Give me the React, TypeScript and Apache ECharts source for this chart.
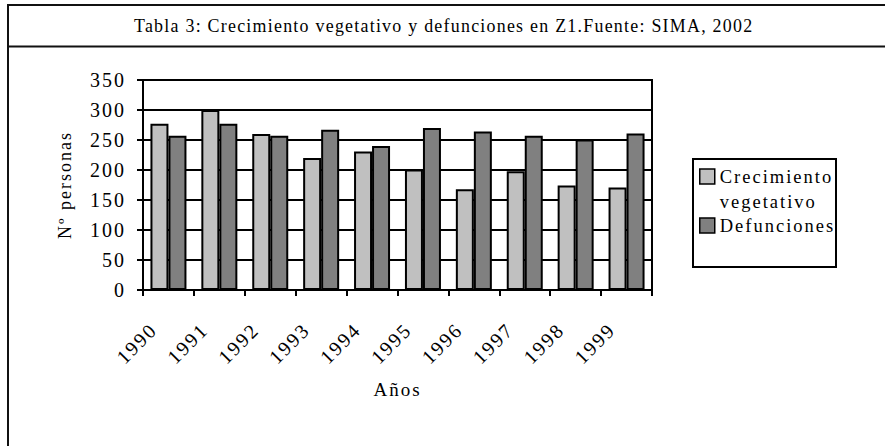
import React, { useEffect, useRef } from "react";
import * as echarts from "echarts";

const titleText = "Tabla 3: Crecimiento vegetativo y defunciones en Z1.Fuente: SIMA, 2002";
const categories = ["1990", "1991", "1992", "1993", "1994", "1995", "1996", "1997", "1998", "1999"];
const seriesNames = ["Crecimiento vegetativo", "Defunciones"];
const crecimiento = [277, 300, 260, 220, 231, 201, 168, 198, 174, 171];
const defunciones = [257, 277, 257, 267, 240, 270, 264, 257, 251, 261];
const yMin = 0;
const yMax = 350;
const yInterval = 50;

export default function App() {
  const ref = useRef<HTMLDivElement>(null);
  useEffect(() => {
    const chart = echarts.init(ref.current!, null, { renderer: "svg" });
    const font = "Liberation Serif";
    const black = "#000";
    const line = { color: black, width: 2 };
    chart.setOption({
      animation: false,
      backgroundColor: "#fff",
      textStyle: { fontFamily: font, color: black },
      title: {
        text: titleText,
        left: 134,
        top: 17,
        padding: 0,
        textStyle: { fontFamily: font, fontSize: 17.9, fontWeight: "normal", color: black },
      },
      grid: {
        left: 143,
        right: 233,
        top: 80,
        bottom: 156,
        show: true,
        borderColor: black,
        borderWidth: 2,
        backgroundColor: "transparent",
      },
      legend: {
        orient: "vertical",
        left: 699,
        top: 139,
        padding: 0,
        itemGap: 2,
        itemWidth: 15,
        itemHeight: 15,
        icon: "rect",
        selectedMode: false,
        textStyle: { fontFamily: font, fontSize: 18.5, color: black },
        itemStyle: { borderColor: black, borderWidth: 1.5 },
        data: [
          { name: seriesNames[0], textStyle: { lineHeight: 25 } },
          { name: seriesNames[1] },
        ],
        formatter: (n: string) => (n === seriesNames[0] ? "\nCrecimiento\nvegetativo" : n),
      },
      xAxis: {
        type: "category",
        data: categories,
        name: "Años",
        nameLocation: "middle",
        nameGap: 90,
        nameMoveOverlap: false,
        nameTextStyle: { fontFamily: font, fontSize: 19, color: black },
        axisLine: { show: true, lineStyle: line },
        axisTick: { show: true, length: 6, lineStyle: line },
        axisLabel: {
          interval: 0,
          rotate: 45,
          fontFamily: font,
          fontSize: 20,
          color: black,
          margin: 21.5,
          padding: [0, 21, 0, 0],
        },
        splitLine: { show: false },
      },
      yAxis: {
        type: "value",
        min: yMin,
        max: yMax,
        interval: yInterval,
        name: "Nº personas",
        nameLocation: "middle",
        nameGap: 69,
        nameMoveOverlap: false,
        nameTextStyle: { fontFamily: font, fontSize: 18, color: black },
        axisLine: { show: true, lineStyle: line },
        axisTick: { show: true, length: 6, lineStyle: line },
        axisLabel: { fontFamily: font, fontSize: 20, color: black, margin: 17 },
        splitLine: { show: true, lineStyle: line },
      },
      series: [
        {
          name: seriesNames[0],
          type: "bar",
          data: crecimiento,
          barWidth: 18,
          barGap: "0%",
          itemStyle: { color: "#C0C0C0", borderColor: black, borderWidth: 2 },
        },
        {
          name: seriesNames[1],
          type: "bar",
          data: defunciones,
          barWidth: 18,
          barGap: "0%",
          itemStyle: { color: "#808080", borderColor: black, borderWidth: 2 },
        },
      ],
      graphic: [
        { type: "line", silent: true, shape: { x1: 8, y1: 5, x2: 885, y2: 5 }, style: { stroke: "#111", lineWidth: 2 } },
        { type: "line", silent: true, shape: { x1: 8, y1: 46.5, x2: 885, y2: 46.5 }, style: { stroke: "#111", lineWidth: 2 } },
        { type: "line", silent: true, shape: { x1: 8, y1: 4, x2: 8, y2: 446 }, style: { stroke: "#111", lineWidth: 2 } },
        { type: "rect", silent: true, shape: { x: 693, y: 159, width: 143, height: 108 }, style: { fill: "none", stroke: black, lineWidth: 2 } },
      ],
    });
    return () => chart.dispose();
  }, []);
  return (
    <>
      <style>{`#chartbox text { letter-spacing: 2px; } #chartbox text[style*="17.9px"] { letter-spacing: 1.25px; }`}</style>
      <div
        id="chartbox"
        ref={ref}
        style={{ position: "absolute", left: 0, top: 0, width: 885, height: 446 }}
      />
    </>
  );
}
